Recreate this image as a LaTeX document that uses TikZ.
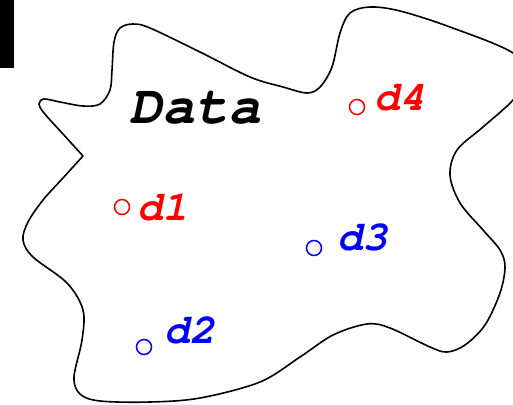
\documentclass[tikz,border=0pt]{standalone}
\usepackage[T1]{fontenc}
\usepackage{fontspec}
\newcommand\courbi{\fontencoding{T1}\fontfamily{pcr}\fontseries{b}\fontshape{sl}\selectfont}
\tikzset{
  blob/.style={draw=black, line width=1.6pt, line join=round},
  dot/.style={circle, draw, line width=1.5pt, minimum size=15pt, inner sep=0pt},
  lab/.style={font=\courbi\fontsize{42}{42}\selectfont, anchor=base west, inner sep=0pt},
  title/.style={font=\courbi\fontsize{55}{55}\selectfont, anchor=base west, inner sep=0pt}
}
\begin{document}
\begin{tikzpicture}[x=1pt,y=-1pt]
\useasboundingbox (0,0) rectangle (513,404);
\fill[black] (0,0) rectangle (14,68);
\draw[blob] plot[smooth, tension=0.55] coordinates {
(83,156) (63,178) (43,200) (28,222) (23,240) (33,257) (67,283) (83,310) (82,340) (74,377) (80,394) (100,401) (150,402) (200,398) (260,382) (300,357) (333,335) (367,324) (390,328) (430,347) (447,352) (465,345) (485,325) (500,293) (505,267) (500,250) (483,230) (460,203) (450,175) (457,150) (483,127) (513,100) (525,78) (513,53) (450,27) (400,11) (370,7) (350,13) (340,33) (332,67) (320,87) (307,93) (283,87) (250,77) (200,52) (150,28) (133,24) (120,28) (114,42) (112,70) (110,90) (100,104) (83,106) (60,102) (44,99) (39,104) (44,113) (63,134) (83,156)};
\node[title] (data) at (129,123) {Data};
\node[dot, red] (c4) at (357,107) {};
\node[lab, red] (d4) at (374,110) {d4};
\node[dot, red] (c1) at (122,207) {};
\node[lab, red] (d1) at (137,220) {d1};
\node[dot, blue] (c3) at (314,248) {};
\node[lab, blue] (d3) at (337,250) {d3};
\node[dot, blue] (c2) at (144,347) {};
\node[lab, blue] (d2) at (164,343) {d2};
\end{tikzpicture}
\end{document}
